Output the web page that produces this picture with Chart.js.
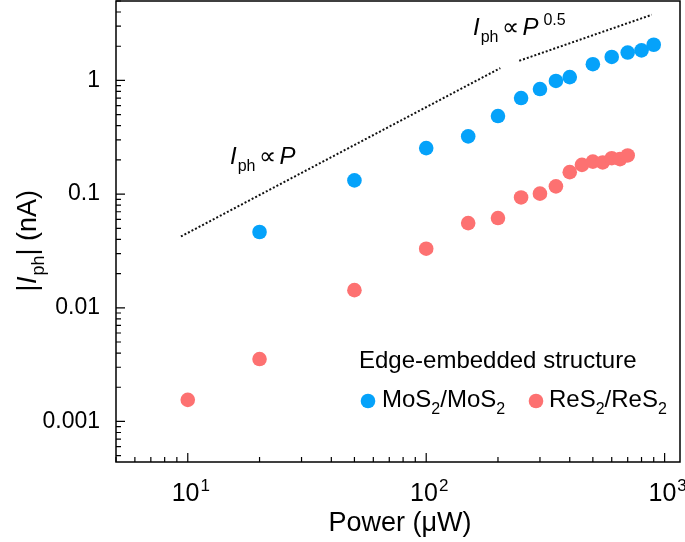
<!DOCTYPE html>
<html>
<head>
<meta charset="utf-8">
<script src="https://cdn.jsdelivr.net/npm/chart.js@4.4.1/dist/chart.umd.min.js"></script>
<style>
  html, body { margin: 0; padding: 0; background: #fff; }
  canvas { display: block; }
</style>
</head>
<body>
<canvas id="myChart" width="685" height="542"></canvas>
<script>
// data
const mosPower = [20, 50, 100, 150, 200, 250, 300, 350, 400, 500, 600, 700, 800, 900];
const mosCurrent = [0.0464, 0.132, 0.254, 0.322, 0.486, 0.70, 0.84, 0.99, 1.07, 1.39, 1.61, 1.76, 1.84, 2.06];
const resPower = [10, 20, 50, 100, 150, 200, 250, 300, 350, 400, 450, 500, 550, 600, 650, 700];
const resCurrent = [0.00155, 0.00354, 0.0143, 0.0331, 0.0556, 0.0616, 0.0935, 0.101, 0.117, 0.156, 0.181, 0.193, 0.190, 0.207, 0.203, 0.219];
// guide lines (endpoints)
const linearGuideX = [9.36, 204.6];
const linearGuideY = [0.0424, 1.285];
const sqrtGuideX = [245.6, 883];
const sqrtGuideY = [1.49, 3.78];
// tick labels
const xTickValues = [10, 100, 1000];
const xTickExponents = ['1', '2', '3'];
const yTickValues = [0.001, 0.01, 0.1, 1];
const yTickLabels = ['0.001', '0.01', '0.1', '1'];

const FONT = '"Liberation Sans", Arial, Helvetica, sans-serif';
const BLUE = '#05a2fa';
const RED = '#fd7171';

function toPoints(xs, ys) {
    return xs.map((x, i) => ({ x: x, y: ys[i] }));
}

function minorTicks(min, max) {
    const out = [];
    for (let e = -5; e <= 4; e++) {
        for (let m = 1; m <= 9; m++) {
            const v = m * Math.pow(10, e);
            if (v >= min && v <= max) out.push({ v: v, major: m === 1 });
        }
    }
    return out;
}

// mixed text: parts = [[text, style, extraGap]], style: '', 'i', 'sub', 'sup'
function partFont(style, size) {
    if (style === 'i') return 'italic ' + size + 'px ' + FONT;
    if (style === 'sub' || style === 'sup') return Math.round(size * 0.68) + 'px ' + FONT;
    return size + 'px ' + FONT;
}
function richWidth(ctx, parts, size) {
    let w = 0;
    parts.forEach(p => {
        ctx.font = partFont(p[1], size);
        w += ctx.measureText(p[0]).width + (p[2] || 0);
    });
    return w;
}
function drawRich(ctx, x, y, parts, size) {
    ctx.textBaseline = 'alphabetic';
    ctx.textAlign = 'left';
    parts.forEach(p => {
        ctx.font = partFont(p[1], size);
        let dy = 0;
        if (p[1] === 'sub') dy = size * 0.28;
        if (p[1] === 'sup') dy = -size * 0.42;
        ctx.fillText(p[0], x, y + dy);
        x += ctx.measureText(p[0]).width + (p[2] || 0);
    });
    return x;
}

const extras = {
    id: 'extras',
    afterDraw(chart) {
        const ctx = chart.ctx;
        const a = chart.chartArea;
        const xs = chart.scales.x;
        const ys = chart.scales.y;
        ctx.save();
        ctx.strokeStyle = '#000';
        ctx.fillStyle = '#000';
        ctx.lineWidth = 1.5;
        ctx.strokeRect(a.left, a.top, a.right - a.left, a.bottom - a.top);

        // inward ticks
        ctx.lineWidth = 1.2;
        ctx.beginPath();
        minorTicks(xs.min, xs.max).forEach(t => {
            const px = xs.getPixelForValue(t.v);
            const len = t.major ? 9 : 5;
            ctx.moveTo(px, a.bottom);
            ctx.lineTo(px, a.bottom - len);
        });
        minorTicks(ys.min, ys.max).forEach(t => {
            const py = ys.getPixelForValue(t.v);
            const len = t.major ? 9 : 5;
            ctx.moveTo(a.left, py);
            ctx.lineTo(a.left + len, py);
        });
        ctx.stroke();

        // x tick labels with superscripts
        xTickValues.forEach((v, i) => {
            const px = xs.getPixelForValue(v);
            const parts = [['10', '', 1], [xTickExponents[i], 'sup']];
            const w = richWidth(ctx, parts, 25);
            drawRich(ctx, px - w / 2 + 3, 501, parts, 25);
        });

        // axis titles
        const xt = [['Power (\u03bcW)', '']];
        drawRich(ctx, (a.left + a.right) / 2 - richWidth(ctx, xt, 27) / 2 + 2, 531, xt, 27);

        ctx.save();
        ctx.translate(36, 241);
        ctx.rotate(-Math.PI / 2);
        const yt = [['|', 'i', 1], ['I', 'i', 1], ['ph', 'sub'], ['| (nA)', '']];
        drawRich(ctx, -richWidth(ctx, yt, 27) / 2, 0, yt, 27);
        ctx.restore();

        // annotations
        const ann = 24;
        drawRich(ctx, 230, 164, [['I', 'i', 1], ['ph', 'sub', 4], ['\u221d', '', 3], ['P', 'i']], ann);
        drawRich(ctx, 473, 35, [['I', 'i', 1], ['ph', 'sub', 4], ['\u221d', '', 3], ['P', 'i', 5], ['0.5', 'sup']], ann);

        // legend
        const lg = 24;
        drawRich(ctx, 359, 368, [['Edge-embedded structure', '']], lg);
        ctx.fillStyle = BLUE;
        ctx.beginPath();
        ctx.arc(368, 401, 7.3, 0, Math.PI * 2);
        ctx.fill();
        ctx.fillStyle = RED;
        ctx.beginPath();
        ctx.arc(536, 401, 7.3, 0, Math.PI * 2);
        ctx.fill();
        ctx.fillStyle = '#000';
        drawRich(ctx, 382, 407, [['MoS', ''], ['2', 'sub'], ['/MoS', ''], ['2', 'sub']], lg);
        drawRich(ctx, 549, 407, [['ReS', ''], ['2', 'sub'], ['/ReS', ''], ['2', 'sub']], lg);
        ctx.restore();
    }
};

const ctx = document.getElementById('myChart').getContext('2d');
new Chart(ctx, {
    type: 'scatter',
    data: {
        datasets: [
            {
                label: 'MoS2/MoS2',
                data: toPoints(mosPower, mosCurrent),
                backgroundColor: BLUE,
                borderWidth: 0,
                pointRadius: 7.3,
            },
            {
                label: 'ReS2/ReS2',
                data: toPoints(resPower, resCurrent),
                backgroundColor: RED,
                borderWidth: 0,
                pointRadius: 7.3,
            },
            {
                label: 'Iph ∝ P',
                data: toPoints(linearGuideX, linearGuideY),
                showLine: true,
                borderColor: '#111',
                borderWidth: 2,
                borderDash: [2, 2],
                pointRadius: 0,
            },
            {
                label: 'Iph ∝ P^0.5',
                data: toPoints(sqrtGuideX, sqrtGuideY),
                showLine: true,
                borderColor: '#111',
                borderWidth: 2,
                borderDash: [2, 2],
                pointRadius: 0,
            },
        ],
    },
    options: {
        responsive: false,
        animation: false,
        events: [],
        layout: { autoPadding: false, padding: { left: 0, top: 1, right: 5, bottom: 0 } },
        plugins: {
            legend: { display: false },
            tooltip: { enabled: false },
        },
        scales: {
            x: {
                type: 'logarithmic',
                min: 5,
                max: 1160,
                grid: { display: false, drawTicks: false },
                border: { display: false },
                ticks: { display: false },
                afterFit(scale) {
                    scale.height = 80;
                    scale.paddingLeft = 0;
                    scale.paddingRight = 0;
                },
            },
            y: {
                type: 'logarithmic',
                min: 0.00044,
                max: 5,
                grid: { display: false, drawTicks: false },
                border: { display: false },
                afterBuildTicks(scale) {
                    scale.ticks = yTickValues.map(v => ({ value: v }));
                },
                ticks: {
                    autoSkip: false,
                    padding: 16,
                    color: '#000',
                    font: { family: FONT, size: 23 },
                    callback(value) {
                        const i = yTickValues.findIndex(v => Math.abs(v - value) / v < 1e-6);
                        return i >= 0 ? yTickLabels[i] : '';
                    },
                },
                afterFit(scale) {
                    scale.width = 116;
                    scale.paddingTop = 0;
                    scale.paddingBottom = 0;
                },
            },
        },
    },
    plugins: [extras],
});
</script>
</body>
</html>
